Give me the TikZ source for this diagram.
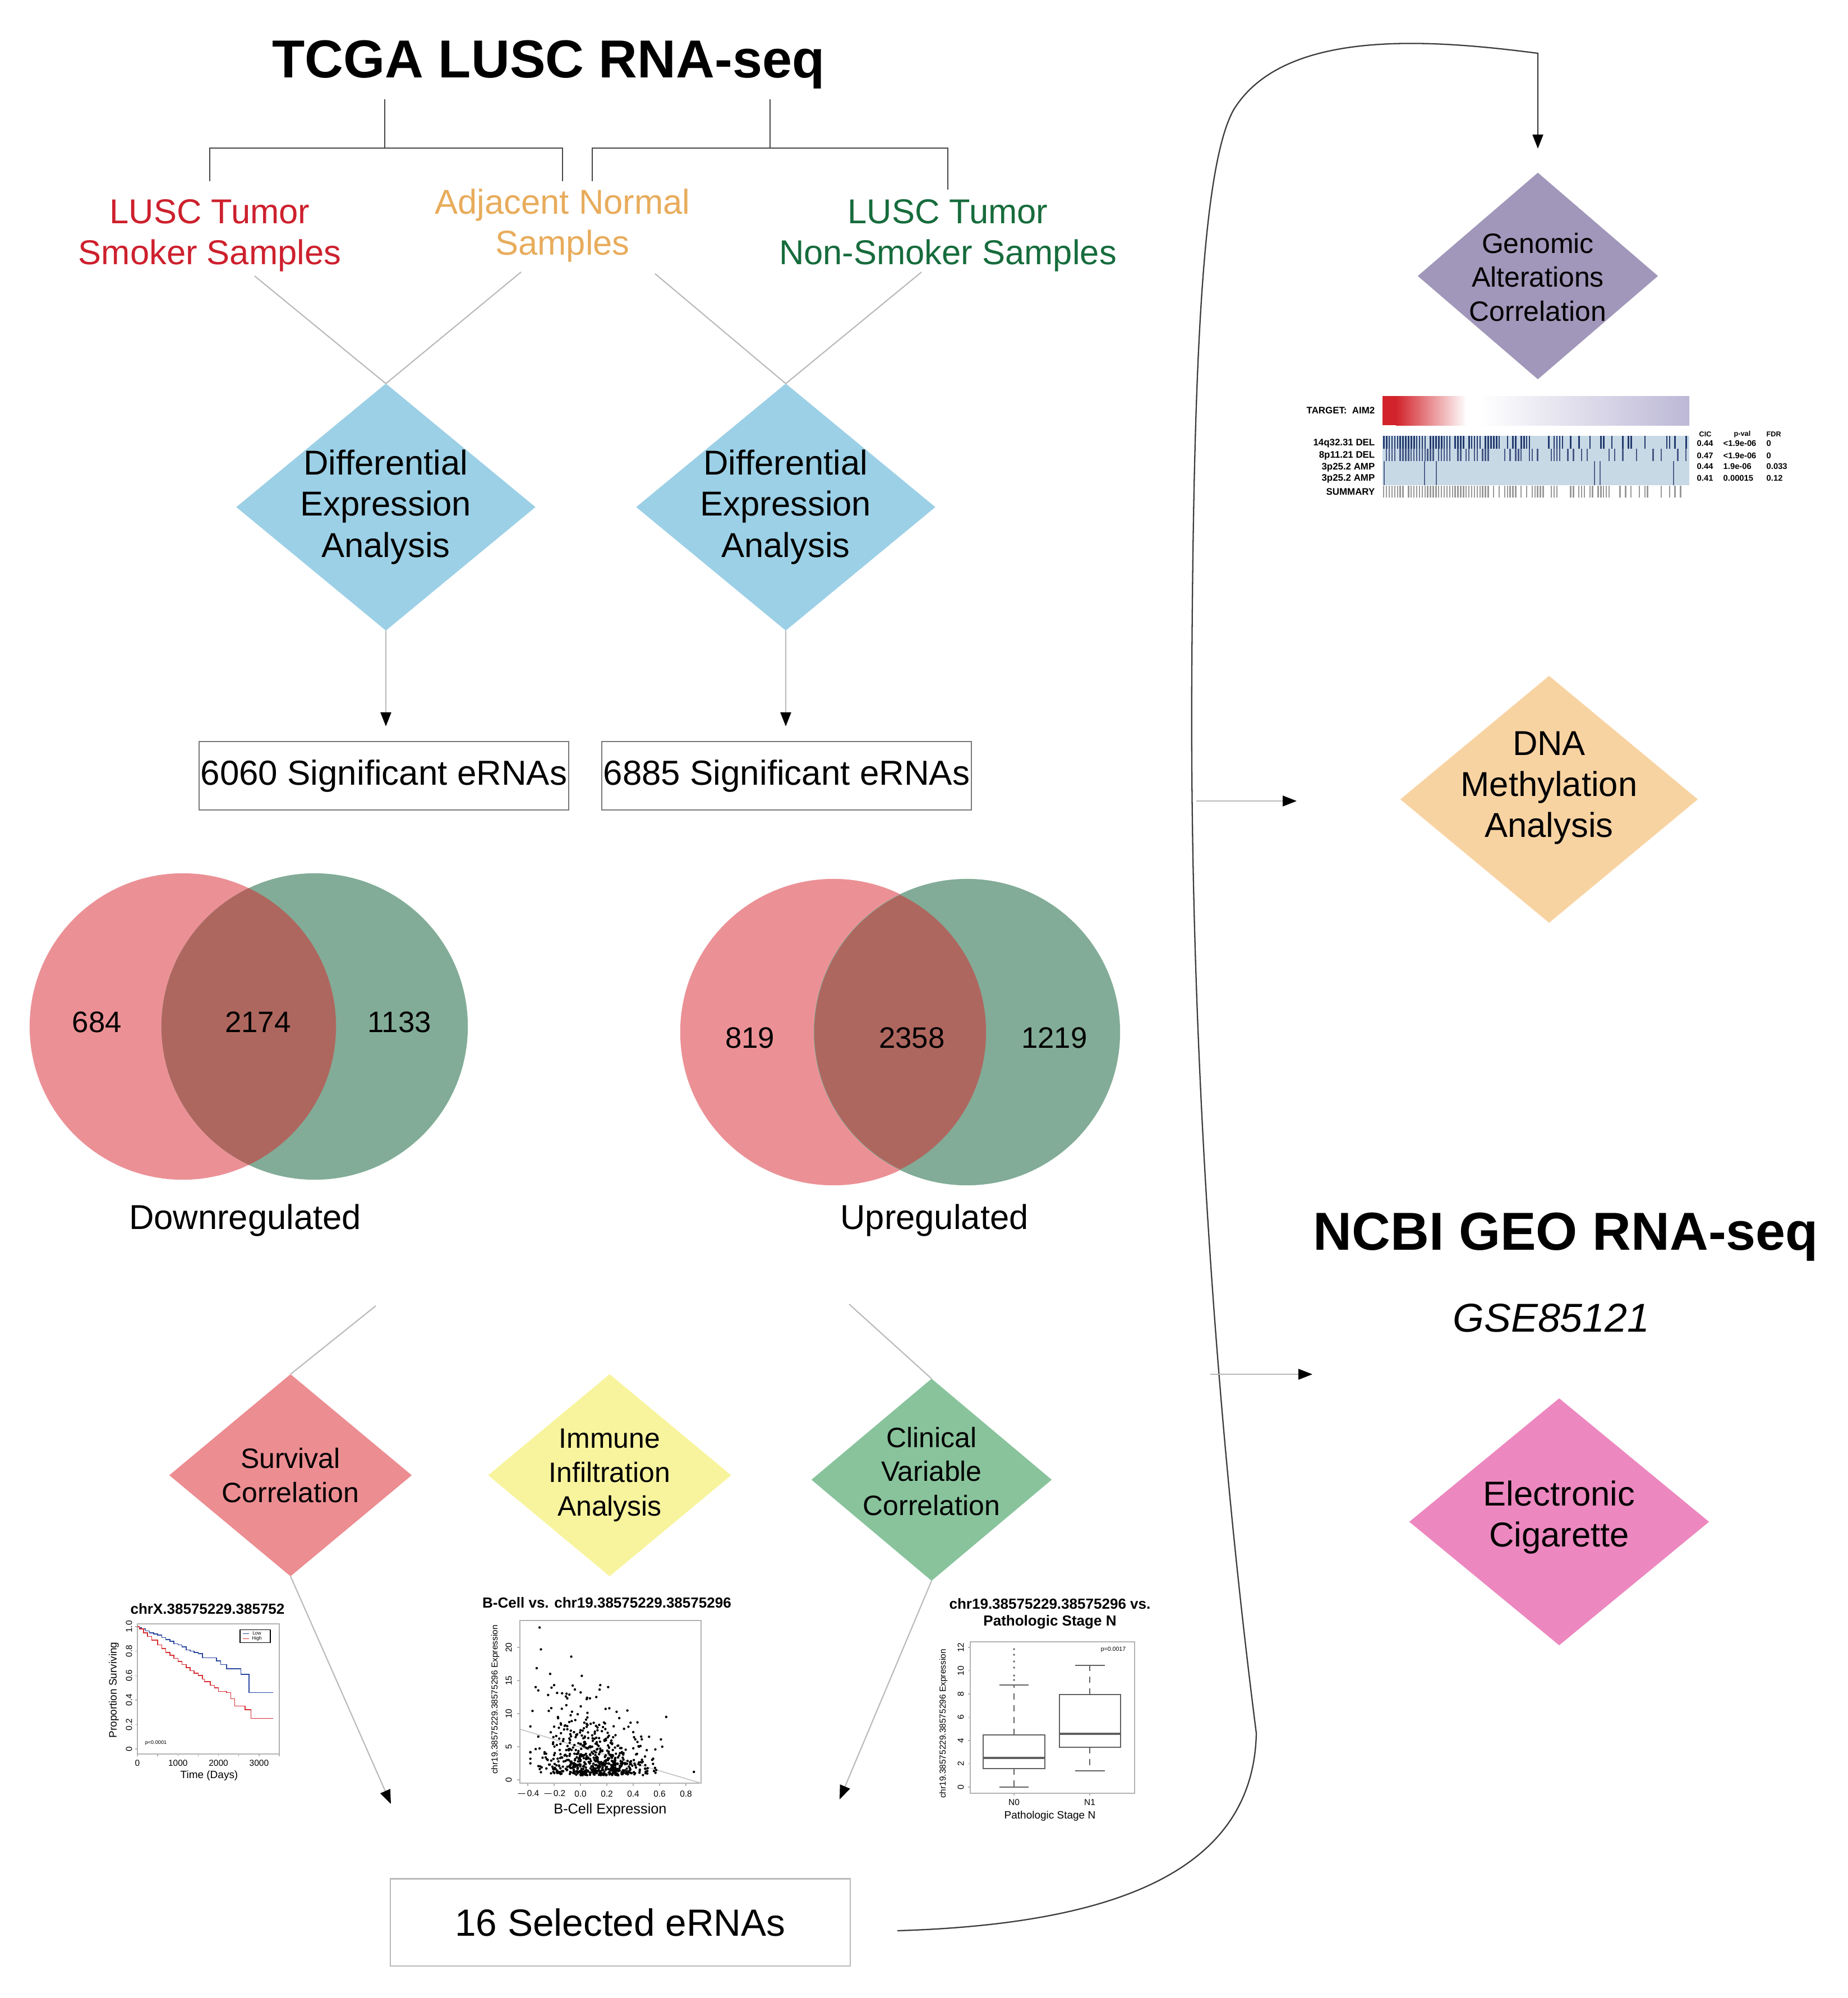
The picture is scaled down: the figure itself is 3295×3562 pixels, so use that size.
\documentclass[tikz,border=0pt]{standalone}
\usepackage{fontspec}
\setmainfont{Liberation Sans}
\usetikzlibrary{shapes.geometric,arrows.meta,calc}
\definecolor{tred}{RGB}{205,32,45}
\definecolor{torange}{RGB}{232,172,92}
\definecolor{tgreen}{RGB}{22,108,60}
\definecolor{deablue}{RGB}{156,208,230}
\definecolor{vred}{RGB}{235,145,150}
\definecolor{vgreen}{RGB}{130,172,151}
\definecolor{vover}{RGB}{174,103,95}
\definecolor{survred}{RGB}{236,141,146}
\definecolor{immyel}{RGB}{248,244,158}
\definecolor{clingreen}{RGB}{136,195,156}
\definecolor{genpurple}{RGB}{161,151,186}
\definecolor{dnaorange}{RGB}{248,211,162}
\definecolor{ecigpink}{RGB}{236,136,191}
\definecolor{hmblue}{RGB}{200,217,230}
\definecolor{hmnavy}{RGB}{35,58,110}
\definecolor{gradred}{RGB}{210,35,42}
\definecolor{gradlav}{RGB}{188,184,214}
\definecolor{kmblue}{RGB}{40,70,160}
\definecolor{kmred}{RGB}{215,45,50}
\definecolor{linegray}{RGB}{185,185,185}
\definecolor{brkgray}{RGB}{70,70,70}
\definecolor{boxgray}{RGB}{120,120,120}
\definecolor{curvegray}{RGB}{60,60,60}
\begin{document}
\begin{tikzpicture}[x=0.01cm,y=-0.01cm,
  dia/.style={diamond,inner sep=0pt,outer sep=0pt,draw=none},
  big/.style={align=center,inner sep=0pt,font=\fontsize{17.5}{20.8}\selectfont},
  mid/.style={align=center,inner sep=0pt,font=\fontsize{14.2}{17.2}\selectfont},
  venn/.style={circle,inner sep=0pt,minimum size=5.46cm,draw=none},
  num/.style={inner sep=0pt,font=\fontsize{15}{18}\selectfont},
  brk/.style={draw=brkgray,line width=0.8pt},
  thin/.style={draw=linegray,line width=0.6pt},
  arr/.style={draw=linegray,line width=0.6pt,-{Triangle[length=0.25cm,width=0.19cm,color=black]}},
  sigbox/.style={draw=boxgray,line width=0.6pt,inner sep=0pt,font=\fontsize{17.6}{21}\selectfont},
  ptitle/.style={inner sep=0pt,align=center,font=\bfseries\fontsize{7.4}{8.6}\selectfont},
  tick/.style={inner sep=0pt,font=\fontsize{4.4}{5}\selectfont},
  axlab/.style={inner sep=0pt,font=\fontsize{5.4}{6}\selectfont},
  frame/.style={draw=gray!60,line width=0.4pt},
  hm/.style={inner sep=0pt,font=\bfseries\fontsize{4.8}{5.5}\selectfont}]
\useasboundingbox (0,0) rectangle (3295,3562);

% ---------- title and bracket ----------
\node[anchor=base,inner sep=0pt,font=\bfseries\fontsize{27.1}{32}\selectfont] (tcga) at (978,138) {TCGA LUSC RNA-seq};
\coordinate (tl) at (686,177);
\coordinate (tr) at (1373,177);
\coordinate (jl) at (686,264);
\coordinate (jr) at (1373,264);
\coordinate (bl1) at (374,323);
\coordinate (bl2) at (1003,323);
\coordinate (br1) at (1056,323);
\coordinate (br2) at (1690,338);
\draw[brk] (tl) -- (jl);
\draw[brk] (tr) -- (jr);
\draw[brk] (bl1) |- (jl) -| (bl2);
\draw[brk] (br1) |- (jr) -| (br2);

% ---------- sample labels ----------
\node[big,text=tred] (smk) at (374,420) {LUSC Tumor\\Smoker Samples};
\node[big,text=torange] (adj) at (1003,402) {Adjacent Normal\\Samples};
\node[big,text=tgreen] (nsm) at (1690,420) {LUSC Tumor\\Non-Smoker Samples};

% ---------- DEA diamonds ----------
\node[dia,fill=deablue,minimum width=5.33cm,minimum height=4.4cm] (dea1) at (688,904) {};
\node[dia,fill=deablue,minimum width=5.33cm,minimum height=4.4cm] (dea2) at (1401,904) {};
\node[big] (dea1t) at (dea1.center) {Differential\\Expression\\Analysis};
\node[big] (dea2t) at (dea2.center) {Differential\\Expression\\Analysis};

\coordinate (c1) at (454,492);
\coordinate (c2) at (929,485);
\coordinate (c3) at (1168,488);
\coordinate (c4) at (1643,485);
\draw[thin] (c1) -- (dea1.north);
\draw[thin] (c2) -- (dea1.north);
\draw[thin] (c3) -- (dea2.north);
\draw[thin] (c4) -- (dea2.north);

% ---------- significant boxes ----------
\node[sigbox,minimum width=6.59cm,minimum height=1.22cm] (b1) at (684.5,1383) {6060 Significant eRNAs};
\node[sigbox,minimum width=6.59cm,minimum height=1.22cm] (b2) at (1402.5,1383) {6885 Significant eRNAs};
\draw[arr,shorten >=0.26cm] (dea1.south) -- (dea1.south |- b1.north);
\draw[arr,shorten >=0.26cm] (dea2.south) -- (dea2.south |- b2.north);

% ---------- Venn diagrams ----------
\node[venn,fill=vred] (v1a) at (326,1830) {};
\node[venn,fill=vgreen] (v1b) at (561,1830) {};
\begin{scope}
  \clip (326,1830) circle (2.73cm);
  \fill[vover] (561,1830) circle (2.73cm);
\end{scope}
\node[venn,fill=vred] (v2a) at (1486,1840) {};
\node[venn,fill=vgreen] (v2b) at (1724,1840) {};
\begin{scope}
  \clip (1486,1840) circle (2.72cm);
  \fill[vover] (1724,1840) circle (2.72cm);
\end{scope}
\node[num] (n684) at (173,1822) {684};
\node[num] (n2174) at (460,1822) {2174};
\node[num] (n1133) at (712,1822) {1133};
\node[num] (n819) at (1337,1850) {819};
\node[num] (n2358) at (1626,1850) {2358};
\node[num] (n1219) at (1880,1850) {1219};
\node[big] (down) at (437,2176) {Downregulated};
\node[big] (up) at (1666,2176) {Upregulated};

% ---------- lower diamonds ----------
\node[dia,fill=survred,minimum width=4.32cm,minimum height=3.6cm] (surv) at (518,2630) {};
\node[dia,fill=immyel,minimum width=4.33cm,minimum height=3.6cm] (imm) at (1087,2630) {};
\node[dia,fill=clingreen,minimum width=4.28cm,minimum height=3.6cm] (clin) at (1661,2638) {};
\node[mid] (survt) at (518,2630) {Survival\\Correlation};
\node[mid] (immt) at (1087,2630) {Immune\\Infiltration\\Analysis};
\node[mid] (clint) at (1661,2623) {Clinical\\Variable\\Correlation};

\coordinate (vl) at (670,2328);
\coordinate (vr) at (1514,2325);
\draw[thin] (vl) -- (surv.north);
\draw[thin] (vr) -- (clin.north);

\coordinate (al) at (697,3216);
\coordinate (ar) at (1497,3208);
\draw[arr] (surv.south) -- (al);
\draw[arr] (clin.south) -- (ar);

% ---------- survival plot ----------
\node[ptitle] (kmt) at (370,2868) {chrX.38575229.385752};
\draw[frame] (245,2895) rectangle (498,3127);
\foreach \v/\l in {1/1.0,0.8/0.8,0.6/0.6,0.4/0.4,0.2/0.2,0/0}{
  \draw[frame] (245,{3118-218*\v}) -- ++(-4,0);
  \node[tick,rotate=90] at (230,{3118-218*\v}) {\l};
}
\foreach \t in {0,0.5,...,3.5}{
  \draw[frame] ({245+72.3*\t},3127) -- ++(0,4);
}
\foreach \t/\l in {0/0,1/1000,2/2000,3/3000}{
  \node[tick] at ({245+72.3*\t},3143) {\l};
}
\node[axlab,rotate=90] (kmy) at (203,3013) {Proportion Surviving};
\node[axlab] (kmx) at (373,3166) {Time (Days)};
\begin{scope}[shift={(245,3118)},x=0.723cm,y=2.18cm]
  \draw[kmblue,line width=0.45pt] plot[const plot] coordinates {(0,1.0) (0.05,0.99) (0.1,0.98) (0.2,0.965) (0.3,0.95) (0.4,0.94) (0.5,0.93) (0.6,0.91) (0.7,0.895) (0.8,0.88) (0.9,0.86) (1.0,0.85) (1.1,0.835) (1.2,0.81) (1.3,0.8) (1.4,0.79) (1.5,0.78) (1.6,0.745) (1.85,0.745) (1.95,0.72) (2.05,0.69) (2.2,0.655) (2.4,0.655) (2.55,0.61) (2.75,0.61) (2.75,0.46) (3.35,0.46)};
  \draw[kmred,line width=0.45pt] plot[const plot] coordinates {(0,1) (0.05,0.98) (0.15,0.95) (0.25,0.92) (0.35,0.89) (0.5,0.85) (0.6,0.82) (0.7,0.79) (0.8,0.765) (0.9,0.74) (1.0,0.715) (1.1,0.69) (1.2,0.665) (1.3,0.64) (1.4,0.62) (1.5,0.6) (1.6,0.57) (1.65,0.55) (1.8,0.52) (1.9,0.5) (2.0,0.47) (2.2,0.46) (2.3,0.41) (2.4,0.35) (2.55,0.35) (2.65,0.32) (2.8,0.31) (2.8,0.25) (3.35,0.25)};
\end{scope}
\draw[draw=black,line width=0.3pt] (428,2905) rectangle (482,2928);
\draw[kmblue,line width=0.3pt] (433,2912) -- (444,2912);
\draw[kmred,line width=0.3pt] (433,2921) -- (444,2921);
\node[inner sep=0pt,font=\fontsize{2.4}{3}\selectfont] (kmleg1) at (458,2912) {Low};
\node[inner sep=0pt,font=\fontsize{2.4}{3}\selectfont] (kmleg2) at (458,2921) {High};
\node[inner sep=0pt,font=\fontsize{2.6}{3}\selectfont] (kmp) at (278,3107) {p<0.0001};

% ---------- scatter plot ----------
\node[ptitle] (sct) at (1082,2857) {B-Cell vs. chr19.38575229.38575296};
\draw[frame] (927,2889) rectangle (1250,3179);
\foreach \w in {0,5,10,15,20}{
  \draw[frame] (927,{3173-11.8*\w}) -- ++(-5,0);
  \node[tick,rotate=90] at (907,{3173-11.8*\w}) {\w};
}
\foreach \v/\l in {-0.4/$-$0.4,-0.2/$-$0.2,0/0.0,0.2/0.2,0.4/0.4,0.6/0.6,0.8/0.8}{
  \draw[frame] ({1035+235*\v},3179) -- ++(0,5);
  \node[tick] at ({1035+235*\v},3198) {\l};
}
\node[axlab,font=\fontsize{7.2}{8}\selectfont] (scx) at (1088,3227) {B-Cell Expression};
\node[tick,rotate=90] (scy) at (883,3030) {chr19.38575229.38575296 Expression};
\draw[draw=gray!45,line width=0.5pt] (928,3083) -- (1250,3179);
\begin{scope}[shift={(1035,3173)},x=2.35cm,y=0.118cm]
  \pgfmathsetseed{7}
  \foreach \i in {1,...,650}{
    \pgfmathsetmacro{\vx}{max(-0.38,min(0.58,(rnd+rnd+rnd-1.5)*0.42+0.1))}
    \pgfmathsetmacro{\vy}{min(20,0.7+(-ln(0.01+0.99*rnd))*(3.2-2.6*\vx))}
    \fill (\vx,\vy) circle[radius=0.022cm];
  }
  \foreach \p in {(-0.31,23),(-0.3,19.7),(-0.07,18.6),(0.01,15.7),(-0.23,16),(0.15,14.3),(0.21,14),(0.65,9.5),(0.86,1.2),(0.4,7.2),(0.52,6.5),(0.61,6.1),(0.62,5),(-0.34,14),(-0.32,13.5),(-0.2,14.3),(-0.1,12.3),(0.05,12.4),(0.12,12.5)}{
    \fill \p circle[radius=0.022cm];
  }
\end{scope}

% ---------- box plot ----------
\node[ptitle] (bpt) at (1872,2877) {chr19.38575229.38575296 vs.\\Pathologic Stage N};
\draw[frame] (1730,2927) rectangle (2023,3197);
\foreach \w in {0,2,4,6,8,10,12}{
  \draw[frame] (1730,{3186-20.75*\w}) -- ++(-4,0);
  \node[tick,rotate=90] at (1713,{3186-20.75*\w}) {\w};
}
\node[tick,rotate=90] (bpy) at (1682,3073) {chr19.38575229.38575296 Expression};
\draw[frame] (1808,3197) -- ++(0,4);
\draw[frame] (1943,3197) -- ++(0,4);
\node[tick] (bn0) at (1808,3213) {N0};
\node[tick] (bn1) at (1943,3213) {N1};
\node[axlab] (bpx) at (1872,3238) {Pathologic Stage N};
\node[inner sep=0pt,font=\fontsize{3}{3.5}\selectfont] (bpp) at (1985,2941) {p=0.0017};
\begin{scope}[draw=gray!75!black,line width=0.45pt]
  \draw[dashed] (1808,3093) -- (1808,3004);
  \draw[dashed] (1808,3153) -- (1808,3186);
  \draw (1782,3004) -- (1834,3004);
  \draw (1782,3186) -- (1834,3186);
  \draw[fill=white] (1753,3093) rectangle (1863,3153);
  \draw[line width=1.1pt] (1753,3134) -- (1863,3134);
  \draw[dashed] (1943,3021) -- (1943,2969);
  \draw[dashed] (1943,3115) -- (1943,3157);
  \draw (1917,2969) -- (1970,2969);
  \draw (1917,3157) -- (1970,3157);
  \draw[fill=white] (1889,3021) rectangle (1998,3115);
  \draw[line width=1.1pt] (1889,3091) -- (1998,3091);
  \foreach \o in {2940,2950,2962,2973,2987,2995}{
    \draw[line width=0.3pt] (1808,\o) circle[radius=0.012cm];
  }
\end{scope}

% ---------- 16 selected ----------
\node[draw=linegray,line width=0.6pt,minimum width=8.19cm,minimum height=1.55cm,inner sep=0pt,font=\fontsize{19.2}{23}\selectfont] (sel) at (1106,3427) {16 Selected eRNAs};

% ---------- right column ----------
\node[dia,fill=genpurple,minimum width=4.28cm,minimum height=3.68cm] (gen) at (2742,492) {};
\node[mid] (gent) at (2742,494) {Genomic\\Alterations\\Correlation};
\node[dia,fill=dnaorange,minimum width=5.3cm,minimum height=4.4cm] (dna) at (2762,1425) {};
\node[big] (dnat) at (2762,1405) {DNA\\Methylation\\Analysis};
\node[anchor=base,inner sep=0pt,font=\bfseries\fontsize{27.1}{32}\selectfont] (ncbi) at (2792,2228) {NCBI GEO RNA-seq};
\node[anchor=base,inner sep=0pt,font=\itshape\fontsize{20.4}{24}\selectfont] (gse) at (2766,2374) {GSE85121};
\node[dia,fill=ecigpink,minimum width=5.34cm,minimum height=4.4cm] (ecig) at (2780,2713) {};
\node[big] (ecigt) at (2780,2705) {Electronic\\Cigarette};

% big curve
\coordinate (cs) at (1600,3442);
\draw[draw=curvegray,line width=0.65pt,-{Triangle[length=0.25cm,width=0.19cm,color=black]},shorten >=0.43cm]
  (cs) .. controls (2000,3430) and (2235,3330) .. (2240,3090)
       .. controls (2190,2700) and (2120,2000) .. (2125,1200)
       .. controls (2128,700) and (2140,300) .. (2200,195)
       .. controls (2290,50) and (2550,70) .. (gen.north |- 0,95)
       -- (gen.north);
\coordinate (d1) at (2133,1428);
\coordinate (d2) at (2312,1428);
\coordinate (e1) at (2158,2450);
\coordinate (e2) at (2340,2450);
\draw[arr] (d1) -- (d2);
\draw[arr] (e1) -- (e2);

% heatmap
\fill[gradred] (2465,706) rectangle (2490,758);
\shade[left color=gradred,right color=white] (2489,706) rectangle (2615,758);
\fill[white] (2614,706) rectangle (2640,758);
\shade[left color=white,right color=gradlav] (2639,706) rectangle (3012,758);
\node[hm,anchor=east] (tgt) at (2452,732) {TARGET:\ \ AIM2};
\fill[hmblue] (2465,777) rectangle (3012,865);
\pgfmathsetseed{11}
\foreach \i in {0,...,110}{
  \pgfmathsetmacro{\xx}{2466+\i*4.9}
  \pgfmathsetmacro{\pa}{0.92-0.7*\i/110}
  \pgfmathsetmacro{\pb}{0.8-0.6*\i/110}
  \pgfmathsetmacro{\pc}{0.95-0.55*\i/110}
  \pgfmathparse{rnd<\pa?1:0}
  \ifdim\pgfmathresult pt>0.5pt \fill[hmnavy] (\xx,777) rectangle ++(2.6,23); \fi
  \pgfmathparse{rnd<\pb?1:0}
  \ifdim\pgfmathresult pt>0.5pt \fill[hmnavy!85] (\xx,800) rectangle ++(2.4,22); \fi
  \pgfmathparse{rnd<\pc?1:0}
  \ifdim\pgfmathresult pt>0.5pt \fill[gray!80] (\xx,866) rectangle ++(2.4,21); \fi
}
\foreach \xx in {2467,2539,2560,2842,2852,2983}{
  \fill[hmnavy!80] (\xx,822) rectangle ++(1.5,43);
}
\node[hm,anchor=east] (r1) at (2452,790) {14q32.31 DEL};
\node[hm,anchor=east] (r2) at (2452,812) {8p11.21 DEL};
\node[hm,anchor=east] (r3) at (2452,833) {3p25.2 AMP};
\node[hm,anchor=east] (r4) at (2452,853) {3p25.2 AMP};
\node[hm,anchor=east] (r5) at (2452,877) {SUMMARY};
\node[hm,anchor=west,font=\bfseries\fontsize{3.6}{4}\selectfont] (h1) at (3029,774) {CIC};
\node[hm,anchor=west,font=\bfseries\fontsize{3.6}{4}\selectfont] (h2) at (3091,774) {p-val};
\node[hm,anchor=west,font=\bfseries\fontsize{3.6}{4}\selectfont] (h3) at (3149,774) {FDR};
\foreach \y/\a/\b/\c in {790/0.44/<1.9e-06/0,812/0.47/<1.9e-06/0,831/0.44/1.9e-06/0.033,852/0.41/0.00015/0.12}{
  \node[hm,anchor=west,font=\bfseries\fontsize{4.2}{5}\selectfont] at (3025,\y) {\a};
  \node[hm,anchor=west,font=\bfseries\fontsize{4.2}{5}\selectfont] at (3072,\y) {\b};
  \node[hm,anchor=west,font=\bfseries\fontsize{4.2}{5}\selectfont] at (3149,\y) {\c};
}
\end{tikzpicture}
\end{document}
